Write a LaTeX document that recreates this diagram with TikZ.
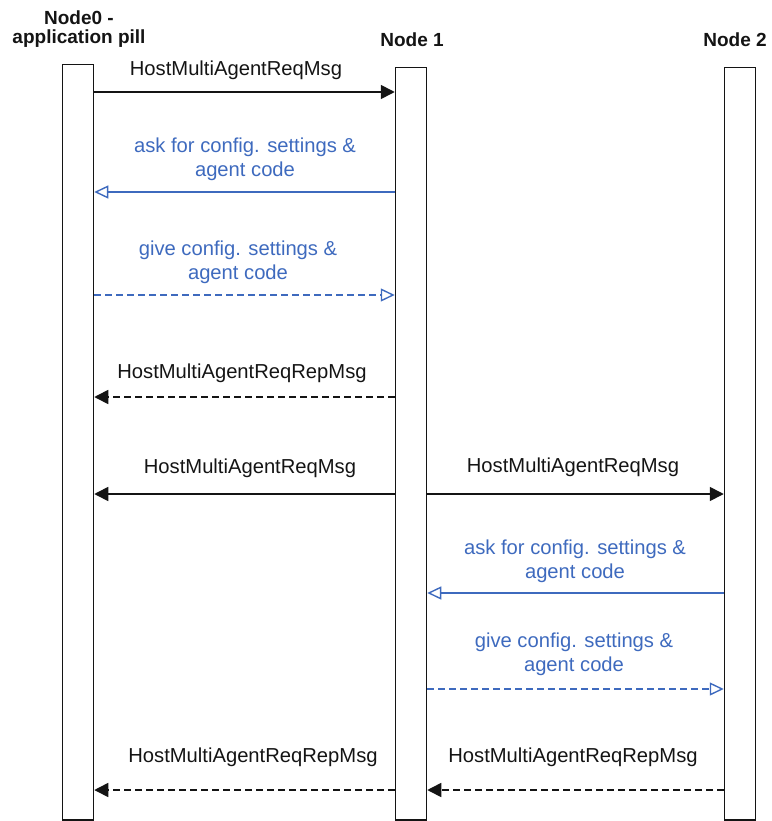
\documentclass[tikz,border=0pt]{standalone}
\usepackage{fontspec}
\setmainfont{Liberation Sans}
\usetikzlibrary{arrows.meta}
\definecolor{msgblue}{RGB}{62,106,190}
\definecolor{ink}{RGB}{20,20,20}
\tikzset{
  lifeline/.style={draw=ink, line width=1.5pt, fill=white, minimum width=31pt, inner sep=0pt, anchor=north},
  title/.style={font=\fontsize{19}{18.5}\selectfont\bfseries, text=ink, align=center},
  msg/.style={font=\fontsize{20.2}{24}\selectfont, text=ink, align=center},
  bmsg/.style={font=\fontsize{20.2}{24}\selectfont, text=msgblue, align=center},
  call/.style={draw=ink, line width=1.6pt, -{Triangle[length=14pt,width=14pt]}},
  reply/.style={call, dash pattern=on 7pt off 4pt},
  ask/.style={draw=msgblue, line width=1.4pt, -{Triangle[open,length=14pt,width=13pt]}},
  give/.style={ask, dash pattern=on 7pt off 4pt}
}
\begin{document}
\begin{tikzpicture}[x=1pt,y=-1pt]
\useasboundingbox (0,0) rectangle (771,821);
% lifelines
\node[lifeline, minimum height=755pt] (n0) at (78,64) {};
\node[lifeline, minimum height=752pt] (n1) at (411,67) {};
\node[lifeline, minimum height=752pt] (n2) at (740,67) {};
% titles
\node[title] (t0) at (79,29) {Node0 -\\application pill};
\node[title] (t1) at (412,40) {Node 1};
\node[title] (t2) at (735,40) {Node 2};
% y levels
\coordinate (y1) at (0,92);
\coordinate (y2) at (0,192);
\coordinate (y3) at (0,295);
\coordinate (y4) at (0,397);
\coordinate (y5) at (0,494);
\coordinate (y6) at (0,593);
\coordinate (y7) at (0,689);
\coordinate (y8) at (0,790);
% labels
\node[msg] (m1) at (236,70) {HostMultiAgentReqMsg};
\node[bmsg] (m2) at (245,159) {ask for config. settings \&\\agent code};
\node[bmsg] (m3) at (238,262) {give config. settings \&\\agent code};
\node[msg] (m4) at (242,373) {HostMultiAgentReqRepMsg};
\node[msg] (m5a) at (250,468) {HostMultiAgentReqMsg};
\node[msg] (m5b) at (573,467) {HostMultiAgentReqMsg};
\node[bmsg] (m6) at (575,561) {ask for config. settings \&\\agent code};
\node[bmsg] (m7) at (574,654) {give config. settings \&\\agent code};
\node[msg] (m8a) at (253,757) {HostMultiAgentReqRepMsg};
\node[msg] (m8b) at (573,757) {HostMultiAgentReqRepMsg};
% arrows
\draw[call] (n0.east |- y1) -- (n1.west |- y1);
\draw[ask] (n1.west |- y2) -- (n0.east |- y2);
\draw[give] (n0.east |- y3) -- (n1.west |- y3);
\draw[reply] (n1.west |- y4) -- (n0.east |- y4);
\draw[call] (n1.west |- y5) -- (n0.east |- y5);
\draw[call] (n1.east |- y5) -- (n2.west |- y5);
\draw[ask] (n2.west |- y6) -- (n1.east |- y6);
\draw[give] (n1.east |- y7) -- (n2.west |- y7);
\draw[reply] (n1.west |- y8) -- (n0.east |- y8);
\draw[reply] (n2.west |- y8) -- (n1.east |- y8);
\end{tikzpicture}
\end{document}
